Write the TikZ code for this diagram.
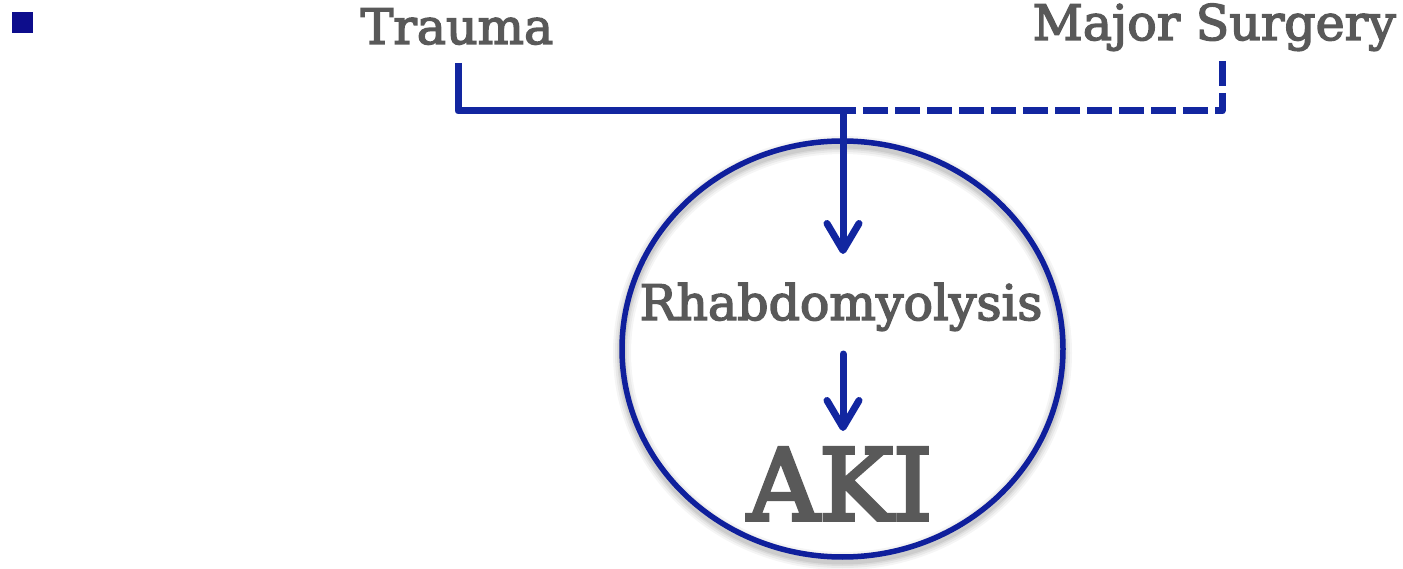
\documentclass[tikz,border=0pt]{standalone}
\usepackage{fontspec}
\setmainfont{DejaVu Serif}
\newfontfamily\slab[FakeBold=3]{DejaVu Serif}
\newfontfamily\slabheavy[FakeBold=4]{DejaVu Serif}
\usetikzlibrary{arrows.meta}
\definecolor{linkblue}{HTML}{1226A0}
\definecolor{ringblue}{HTML}{0F1F9C}
\definecolor{bulletblue}{HTML}{0D0D8C}
\definecolor{labelgray}{HTML}{595959}
\tikzset{
  label/.style={text=labelgray, inner sep=0pt, font=\slab\fontsize{49}{49}\selectfont},
  biglabel/.style={label, font=\slabheavy\fontsize{99}{99}\selectfont},
  link/.style={draw=linkblue, line width=7pt, line join=round},
  optlink/.style={link, dash pattern=on 25pt off 7pt},
  flow/.style={link, line cap=round, -{Straight Barb[length=27pt,width=32pt,line cap=round,line join=round]}},
  ring/.style={draw=ringblue, line width=5.5pt},
}
\begin{document}
\begin{tikzpicture}[x=1pt,y=-1pt]
  \useasboundingbox (0,0) rectangle (1403,569);
  % bullet mark
  \fill[bulletblue] (12,12) rectangle (33,33);
  % causes
  \node[label, anchor=base] (trauma) at (457,44) {Trauma};
  \node[label, anchor=base east] (surgery) at (1396,40) {Major Surgery};
  % joining bracket
  \coordinate (tdrop) at (458,63);
  \coordinate (sdrop) at (1222,61);
  \coordinate (join) at (843,111);
  \draw[link] (tdrop) |- (join);
  \draw[optlink] (sdrop) |- (join);
  % soft shadow under the outcome circle
  \foreach \w/\o in {18/0.04,14/0.05,10/0.06,7/0.07}
    \draw[black, opacity=\o, line width=\w pt] (842.5,353) ellipse [x radius=220.5, y radius=208];
  % outcome circle
  \draw[ring] (842.5,349) ellipse [x radius=220.5, y radius=208];
  \node[label, anchor=base] (rhabdo) at (841,320) {Rhabdomyolysis};
  \node[biglabel, anchor=base] (aki) at (840,520) {AKI};
  \coordinate (rtop) at (843,254);
  \coordinate (atop) at (843,354);
  \coordinate (abot) at (843,431);
  \draw[flow] ([yshift=-3pt]join) -- (rtop);
  \draw[flow] (atop) -- (abot);
\end{tikzpicture}
\end{document}
